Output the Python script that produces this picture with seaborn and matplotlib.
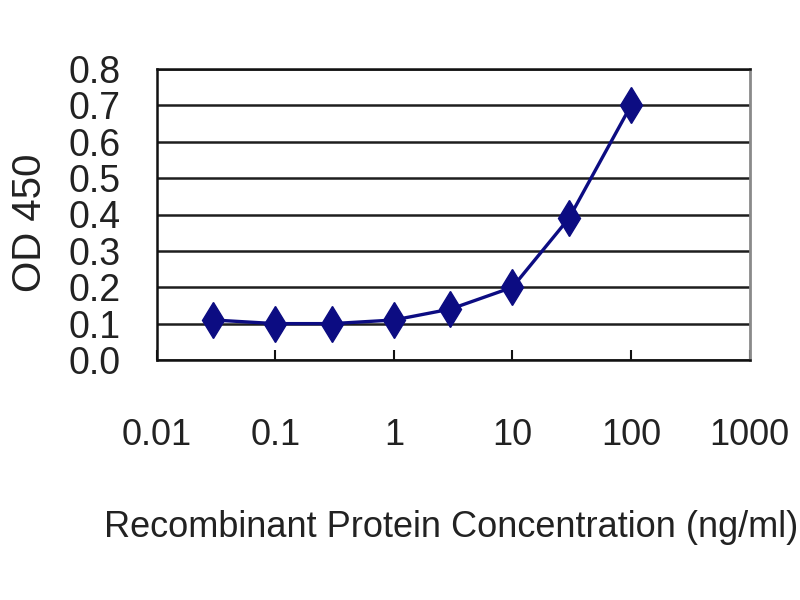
import matplotlib
matplotlib.use("Agg")
import matplotlib.pyplot as plt
from matplotlib.ticker import NullLocator
import seaborn as sns
import pandas as pd

# значения
concentration = [0.03, 0.1, 0.3, 1, 3, 10, 30, 100]
od450 = [0.11, 0.10, 0.10, 0.11, 0.14, 0.20, 0.39, 0.70]

x_ticks = [0.01, 0.1, 1, 10, 100, 1000]
x_tick_labels = ["0.01", "0.1", "1", "10", "100", "1000"]
y_ticks = [0.0, 0.1, 0.2, 0.3, 0.4, 0.5, 0.6, 0.7, 0.8]
y_tick_labels = ["0.0", "0.1", "0.2", "0.3", "0.4", "0.5", "0.6", "0.7", "0.8"]

NAVY = "#0c0c82"
TEXT = "#222222"

sns.set_style("white")
plt.rcParams["font.family"] = ["Liberation Sans", "DejaVu Sans"]

fig = plt.figure(figsize=(8, 6), dpi=100)
ax = fig.add_axes([0.196, 0.40, 0.741, 0.485])

df = pd.DataFrame({"conc": concentration, "od": od450})
sns.lineplot(data=df, x="conc", y="od", ax=ax, color=NAVY, linewidth=2.4,
             marker="d", markersize=18, markeredgecolor=NAVY,
             markerfacecolor=NAVY, markeredgewidth=1)

ax.set_xscale("log")
ax.set_xlim(0.01, 1000)
ax.set_ylim(0, 0.8)
ax.xaxis.set_minor_locator(NullLocator())
ax.set_xticks(x_ticks)
ax.set_xticklabels(x_tick_labels)
ax.set_yticks(y_ticks)
ax.set_yticklabels(y_tick_labels)

ax.yaxis.grid(True, color="#1e1e1e", linewidth=1.8)
ax.xaxis.grid(False)
ax.set_axisbelow(True)

for side in ["left", "bottom", "top"]:
    ax.spines[side].set_color("#111111")
    ax.spines[side].set_linewidth(1.8)
ax.spines["right"].set_color("#8a8a8a")
ax.spines["right"].set_linewidth(2)

ax.tick_params(axis="x", direction="in", length=7, width=1.5, color="#111111",
               pad=42, labelsize=26, labelcolor=TEXT, bottom=True)
ax.tick_params(axis="y", length=0, pad=26, labelsize=27, labelcolor=TEXT)

ax.set_ylabel("OD 450", fontsize=29, color=TEXT, va="center")
ax.yaxis.set_label_coords(-0.214, 0.47)
ax.set_xlabel("Recombinant Protein Concentration (ng/ml)", fontsize=26,
              color=TEXT, va="center")
ax.xaxis.set_label_coords(0.497, -0.574)

fig.savefig("out.png", dpi=100, facecolor="white")
plt.close(fig)
